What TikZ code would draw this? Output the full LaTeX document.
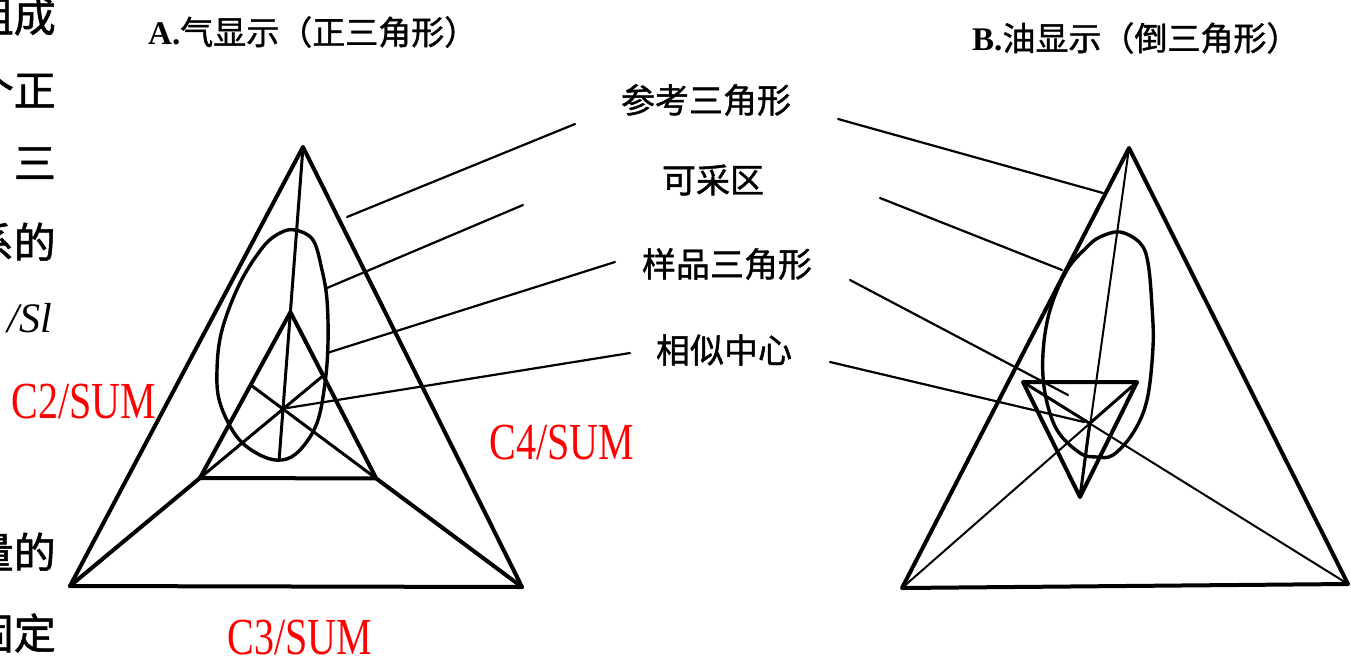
\documentclass[tikz,border=0pt]{standalone}
\usepackage{fontspec}
\setmainfont{Liberation Serif}
\newfontfamily\cjk[FakeBold=1.2]{Noto Sans CJK SC}
\usetikzlibrary{calc}
\begin{document}
\begin{tikzpicture}[x=1pt,y=-1pt,
  heavy/.style={line width=4pt, line join=round, line cap=round},
  medium/.style={line width=3pt, line join=round, line cap=round},
  leader/.style={line width=2.2pt, line cap=round},
  thinline/.style={line width=2pt, line cap=round},
  lab/.style={font=\cjk\fontsize{34}{40}\selectfont, inner sep=0pt},
  ttl/.style={font=\cjk\fontsize{33}{38}\selectfont, inner sep=0pt, anchor=west},
  side/.style={font=\cjk\fontsize{42}{44}\selectfont, inner sep=0pt, anchor=east},
  redlab/.style={text=red, font=\fontsize{40}{44}\selectfont, inner sep=0pt}]
\useasboundingbox (0,0) rectangle (1351,659);
\fill[white] (0,0) rectangle (1351,659);

% cropped page text on the left edge
\begin{scope}
\clip (0,0) rectangle (57,659);
\node[side] (s1) at (56,16) {组成};
\node[side] (s2) at (56,90) {一个正};
\node[side] (s3) at (56,163) {三};
\node[side] (s4) at (56,242) {关系的};
\node[side, font=\itshape\fontsize{42}{44}\selectfont] (s5) at (52,318) {/Sl};
\node[side] (s6) at (56,552) {含量的};
\node[side] (s7) at (56,633) {固定};
\end{scope}

% titles
\node[ttl] (ta) at (148,32) {{\rmfamily\bfseries A.}气显示（正三角形）};
\node[ttl] (tb) at (972,38) {{\rmfamily\bfseries B.}油显示（倒三角形）};

% labels
\node[lab] (l1) at (706,100) {参考三角形};
\node[lab] (l2) at (713,180) {可采区};
\node[lab] (l3) at (727,264) {样品三角形};
\node[lab] (l4) at (724,350) {相似中心};

% red labels
\node[redlab] (c2) at (84,402) {\scalebox{1}[1.3]{C2/SUM}};
\node[redlab] (c4) at (562,443) {\scalebox{1}[1.3]{C4/SUM}};
\node[redlab] (c3) at (300,638) {\scalebox{1}[1.3]{C3/SUM}};

% ---------- A: gas display ----------
\coordinate (A1) at (303,147);
\coordinate (A2) at (70,586);
\coordinate (A3) at (522,587);
\coordinate (ao) at (283,409);
\coordinate (a1) at ($(ao)!0.37!(A1)$);
\coordinate (a2) at ($(ao)!0.39!(A2)$);
\coordinate (a3) at ($(ao)!0.39!(A3)$);
\coordinate (aend) at ($(A1)!1.19!(ao)$);

\draw[heavy] (A1) -- (A2) -- (A3) -- cycle;
\draw[heavy] (a1) -- (a2) -- (a3) -- cycle;
\draw[medium] (A1) -- (ao) -- (aend);
\draw[heavy] (A2) -- (a2);
\draw[heavy] (A3) -- (a3);
\draw[medium] (a2) -- (intersection of a2--ao and a1--a3);
\draw[medium] (a3) -- (intersection of a3--ao and a1--a2);

\draw[heavy, line width=3.4pt] plot[smooth cycle, tension=0.6] coordinates {
 (295,230) (313,240) (322,270) (327,300) (328,343) (325,383) (317,423)
 (300,450) (282,460) (260,455) (237,437) (220,403) (217,370) (222,330)
 (240,283) (263,247) (280,233)};

% leaders A
\coordinate (la1s) at (575,124); \coordinate (la1e) at (347,217);
\coordinate (la2s) at (523,205); \coordinate (la2e) at (327,288);
\coordinate (la3s) at (615,262); \coordinate (la3e) at (327,353);
\coordinate (la4s) at (630,353); \coordinate (la4e) at (287,408);
\draw[leader] (la1s) -- (la1e);
\draw[leader] (la2s) -- (la2e);
\draw[leader] (la3s) -- (la3e);
\draw[leader] (la4s) .. controls (450,382) .. (la4e);

% ---------- B: oil display ----------
\coordinate (B1) at (1129,148);
\coordinate (B2) at (902,588);
\coordinate (B3) at (1348,584);
\coordinate (b1) at (1080,497);
\coordinate (b2) at (1137,382);
\coordinate (b3) at (1023,382);
\coordinate (bo) at (intersection of B2--b2 and B3--b3);

\draw[heavy] (B1) -- (B2) -- (B3) -- cycle;
\draw[heavy] (b1) -- (b2) -- (b3) -- cycle;
\draw[thinline] (B1) -- (b1);
\draw[thinline] (B2) -- (b2);
\draw[thinline] (B3) -- (b3);
\draw[medium] (b2) -- (bo) -- (b3);
\draw[medium] (bo) -- (b1);

\draw[heavy, line width=3.4pt] plot[smooth cycle, tension=0.6] coordinates {
 (1120,232) (1140,243) (1148,263) (1152,307) (1153,347) (1147,400)
 (1133,433) (1113,455) (1097,457) (1080,453) (1057,430) (1045,393)
 (1043,353) (1050,310) (1067,270) (1087,247) (1100,237)};

% leaders B
\coordinate (lb1s) at (838,119); \coordinate (lb1e) at (1103,193);
\coordinate (lb2s) at (880,198); \coordinate (lb2e) at (1062,270);
\coordinate (lb3s) at (850,280); \coordinate (lb3e) at (1068,395);
\coordinate (lb4s) at (830,362); \coordinate (lb4e) at (1084,422);
\draw[leader] (lb1s) -- (lb1e);
\draw[leader] (lb2s) -- (lb2e);
\draw[leader] (lb3s) -- (lb3e);
\draw[leader] (lb4s) -- (lb4e);
\end{tikzpicture}
\end{document}
